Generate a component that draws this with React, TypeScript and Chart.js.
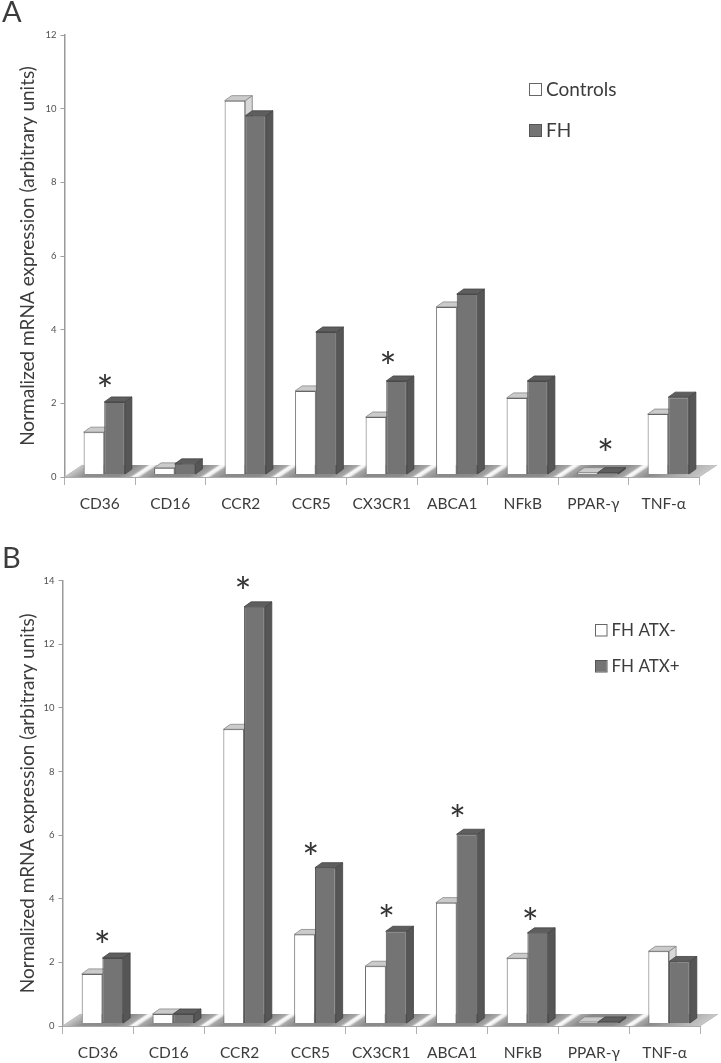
import React, { useEffect, useRef } from "react";
import { Chart, registerables } from "chart.js";

Chart.register(...registerables);

const categories = ["CD36", "CD16", "CCR2", "CCR5", "CX3CR1", "ABCA1", "NFkB", "PPAR-γ", "TNF-α"];
const axisTitle = "Normalized mRNA expression (arbitrary units)";

const controls = [1.15, 0.18, 10.15, 2.27, 1.56, 4.55, 2.08, 0.05, 1.64];
const fh = [1.97, 0.29, 9.74, 3.87, 2.54, 4.9, 2.54, 0.05, 2.1];
const starsA = [2.55, null, null, null, 3.19, null, null, 0.82, null];

const atxNeg = [1.56, 0.3, 9.25, 2.8, 1.8, 3.8, 2.05, 0.05, 2.27];
const atxPos = [2.06, 0.3, 13.1, 4.9, 2.9, 5.95, 2.85, 0.05, 1.95];
const starsB = [2.75, null, 13.85, 5.5, 3.55, 6.7, 3.45, null, null];

const FONT = "Lato, Carlito, 'Open Sans', sans-serif";
const DEPTH_X = 7;
const DEPTH_Y = 5;
const BASE_LIFT = 2.5;
const BAR_SHIFT = 4.5;

type Legend = { x: number; y1: number; y2: number; size: number; font: number };
type Panel = {
  series: [string, number[]][];
  stars: (number | null)[];
  starNudge: number[];
  yMax: number;
  top: number;
  height: number;
  axisLeft: number;
  axisRight: number;
  axisTop: number;
  axisBottom: number;
  legend: Legend;
  letter: string;
  letterY: number;
};

const panels: Panel[] = [
  {
    series: [["Controls", controls], ["FH", fh]],
    stars: starsA,
    starNudge: [-5, 0, 0, 0, -4, 0, 0, 2, 0],
    yMax: 12,
    top: 0,
    height: 530,
    axisLeft: 64.5,
    axisRight: 699,
    axisTop: 35,
    axisBottom: 477,
    legend: { x: 529, y1: 83, y2: 124, size: 12, font: 19 },
    letter: "A",
    letterY: 0,
  },
  {
    series: [["FH ATX-", atxNeg], ["FH ATX+", atxPos]],
    stars: starsB,
    starNudge: [-6, 0, -7, -10, -5, -5, -3, 0, 0],
    yMax: 14,
    top: 530,
    height: 533,
    axisLeft: 62.5,
    axisRight: 700,
    axisTop: 50.7,
    axisBottom: 496,
    legend: { x: 595, y1: 94, y2: 130, size: 11.5, font: 17 },
    letter: "B",
    letterY: 16,
  },
];

const DARK_FRONT = "#747474";
const DARK_SIDE = "#565656";
const DARK_TOP = "#5e5e5e";
const LIGHT_SIDE = "#d8d8d8";
const LIGHT_TOP = "#cbcbcb";

function poly(ctx: CanvasRenderingContext2D, pts: number[][], fill: string, stroke: string) {
  ctx.beginPath();
  pts.forEach((p, i) => (i ? ctx.lineTo(p[0], p[1]) : ctx.moveTo(p[0], p[1])));
  ctx.closePath();
  ctx.fillStyle = fill;
  ctx.fill();
  ctx.strokeStyle = stroke;
  ctx.lineWidth = 0.8;
  ctx.stroke();
}

function makePlugin(p: Panel) {
  return {
    id: "excel3d",
    beforeDatasetsDraw(chart: any) {
      const ctx: CanvasRenderingContext2D = chart.ctx;
      const { left, right, bottom } = chart.chartArea;
      const back = bottom - 12;
      const shear = 1.5;
      // Floor
      ctx.save();
      ctx.beginPath();
      ctx.moveTo(left, bottom);
      ctx.lineTo(left + 18, back);
      ctx.lineTo(right + 18, back);
      ctx.lineTo(right, bottom);
      ctx.closePath();
      ctx.clip();
      ctx.transform(1, 0, -shear, 1, shear * bottom, 0);
      const g = ctx.createLinearGradient(left, 0, right, 0);
      const w = right - left;
      const n = categories.length;
      g.addColorStop(0, "#c8c8c8");
      g.addColorStop(18 / w, "#8e8e8e");
      for (let i = 1; i < n; i++) {
        const c = i / n;
        g.addColorStop(c - 18 / w, "#8a8a8a");
        g.addColorStop(c - 6 / w, "#a8a8a8");
        g.addColorStop(c - 2 / w, "#fafafa");
        g.addColorStop(c + 2 / w, "#f0f0f0");
        g.addColorStop(c + 6 / w, "#a8a8a8");
        g.addColorStop(c + 18 / w, "#8a8a8a");
      }
      g.addColorStop(1, "#c8c8c8");
      ctx.fillStyle = g;
      ctx.fillRect(left - 5, back, w + 10, 13);
      ctx.restore();
      ctx.save();
      ctx.strokeStyle = "#bdbdbd";
      ctx.lineWidth = 1;
      ctx.beginPath();
      ctx.moveTo(left, bottom);
      ctx.lineTo(left + 18, back);
      ctx.moveTo(right, bottom);
      ctx.lineTo(right + 18, back);
      ctx.stroke();
      ctx.restore();

      // 3D faces, shifted with the bars
      ctx.save();
      ctx.translate(BAR_SHIFT, -BASE_LIFT);
      chart.data.datasets.forEach((_: any, di: number) => {
        const dark = di === 1;
        chart.getDatasetMeta(di).data.forEach((b: any) => {
          const l = b.x - b.width / 2;
          const r = b.x + b.width / 2;
          const t = b.y;
          const bt = b.base;
          poly(ctx, [[r, t], [r + DEPTH_X, t - DEPTH_Y], [r + DEPTH_X, bt - DEPTH_Y], [r, bt]],
            dark ? DARK_SIDE : LIGHT_SIDE, dark ? "#444" : "#777");
          poly(ctx, [[l, t], [l + DEPTH_X, t - DEPTH_Y], [r + DEPTH_X, t - DEPTH_Y], [r, t]],
            dark ? DARK_TOP : LIGHT_TOP, dark ? "#444" : "#888");
        });
      });
    },
    afterDatasetsDraw(chart: any) {
      const ctx: CanvasRenderingContext2D = chart.ctx;
      ctx.restore();
      // Significance marks
      const y = chart.scales.y;
      const meta = chart.getDatasetMeta(1);
      ctx.save();
      ctx.fillStyle = "#333";
      ctx.font = `40px ${FONT}`;
      ctx.textAlign = "center";
      ctx.textBaseline = "alphabetic";
      p.stars.forEach((v, i) => {
        if (v === null) return;
        ctx.fillText("*", meta.data[i].x + p.starNudge[i], y.getPixelForValue(v) + 22);
      });
      // Legend
      const { x, y1, y2, size, font } = p.legend;
      p.series.forEach(([label], i) => {
        const ly = i ? y2 : y1;
        ctx.fillStyle = i ? DARK_FRONT : "#ffffff";
        ctx.strokeStyle = i ? "#555" : "#666";
        ctx.lineWidth = 1;
        ctx.fillRect(x, ly, size, size);
        ctx.strokeRect(x + 0.5, ly + 0.5, size, size);
        ctx.fillStyle = "#3c3c3c";
        ctx.font = `${font}px ${FONT}`;
        ctx.textAlign = "left";
        ctx.textBaseline = "middle";
        ctx.fillText(label, x + size + 5, ly + size / 2 + 1);
      });
      ctx.restore();
    },
  };
}

function PanelChart({ p }: { p: Panel }) {
  const ref = useRef<HTMLCanvasElement>(null);
  useEffect(() => {
    const chart = new Chart(ref.current as HTMLCanvasElement, {
      type: "bar",
      data: {
        labels: categories,
        datasets: p.series.map(([label, values], i) => ({
          label,
          data: values,
          backgroundColor: i ? DARK_FRONT : "#ffffff",
          borderColor: i ? "#4a4a4a" : "#666666",
          borderWidth: 1,
          categoryPercentage: 0.585,
          barPercentage: 1,
          clip: false,
        })),
      } as any,
      options: {
        responsive: false,
        animation: false,
        layout: { padding: { top: p.axisTop, right: 721 - p.axisRight, left: 0, bottom: 0 } },
        plugins: { legend: { display: false }, tooltip: { enabled: false } },
        scales: {
          x: {
            afterFit: (s: any) => { s.height = p.height - p.axisBottom; },
            grid: { drawOnChartArea: false, color: "#9a9a9a", tickLength: 8, tickColor: "#b0b0b0" },
            border: { color: "#aaaaaa" },
            ticks: { color: "#3c3c3c", font: { family: FONT, size: 15.5 }, padding: 10, maxRotation: 0, autoSkip: false },
          },
          y: {
            min: 0,
            max: p.yMax,
            afterFit: (s: any) => { s.width = p.axisLeft; },
            grid: { drawOnChartArea: false, color: "#a0a0a0", tickLength: 4 },
            border: { color: "#999999", width: 1.5 },
            ticks: { stepSize: 2, color: "#505050", font: { family: FONT, size: 9.5 }, padding: 4 },
            title: {
              display: true,
              text: axisTitle,
              color: "#3c3c3c",
              font: { family: FONT, size: 19, weight: "normal" },
              padding: { top: 16, bottom: 0 },
            },
          },
        },
      } as any,
      plugins: [makePlugin(p)],
    });
    return () => chart.destroy();
  }, []);
  return (
    <canvas
      ref={ref}
      width={721}
      height={p.height}
      style={{ position: "absolute", left: 0, top: p.top, width: 721, height: p.height, display: "block" }}
    />
  );
}

export default function App() {
  return (
    <div style={{ position: "absolute", left: 0, top: 0, width: 721, height: 1063, background: "#fff", overflow: "hidden" }}>
      {panels.map((p) => (
        <React.Fragment key={p.letter}>
          <PanelChart p={p} />
          <div
            style={{
              position: "absolute",
              left: 2,
              top: p.top + p.letterY - 7,
              font: `29px ${FONT}`,
              color: "#3c3c3c",
              lineHeight: "36px",
            }}
          >
            {p.letter}
          </div>
        </React.Fragment>
      ))}
    </div>
  );
}
